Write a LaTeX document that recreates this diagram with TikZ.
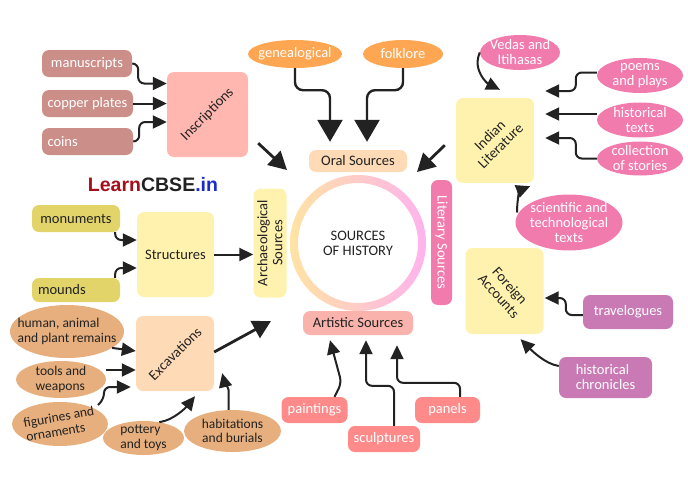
\documentclass[tikz,border=0pt]{standalone}
\usepackage{fontspec}
\setmainfont{Carlito}
\newfontfamily\logofont{Liberation Sans}
\usepackage{xcolor}
\usetikzlibrary{arrows.meta,shapes.geometric}

\definecolor{mauve}{HTML}{CB8E88}
\definecolor{salmon}{HTML}{FFB7AF}
\definecolor{oralorange}{HTML}{FFA653}
\definecolor{peach}{HTML}{FFDAB6}
\definecolor{paleyellow}{HTML}{FFF2AE}
\definecolor{mustard}{HTML}{E2D469}
\definecolor{tanbrown}{HTML}{E6AF7D}
\definecolor{hotpink}{HTML}{F27BAE}
\definecolor{rose}{HTML}{F9B3AC}
\definecolor{coral}{HTML}{FF8A8A}
\definecolor{plum}{HTML}{C97AB4}
\definecolor{ringleft}{HTML}{FFE3A3}
\definecolor{ringright}{HTML}{FFB3EE}
\definecolor{learnred}{HTML}{A50E1A}
\definecolor{learnblue}{HTML}{1B2ACB}
\definecolor{ink}{HTML}{222222}

\tikzset{
  txt/.style={font=\fontsize{14.5}{15}\selectfont, text=ink},
  txtsmall/.style={font=\fontsize{13.5}{14.5}\selectfont, text=ink},
  wtxt/.style={font=\fontsize{14.5}{15}\selectfont, text=white},
  box/.style={rectangle, rounded corners=7pt, inner sep=0pt, align=center},
  oval/.style={ellipse, inner sep=0pt},
  link/.style={draw=ink, line width=2pt, rounded corners=6pt, -{Triangle[length=14pt,width=13pt]}},
  midlink/.style={draw=ink, line width=2.8pt, -{Triangle[length=18pt,width=19pt]}},
  biglink/.style={draw=ink, line width=2.4pt, rounded corners=8pt, -{Triangle[length=22pt,width=25pt]}},
}

\begin{document}
\begin{tikzpicture}[x=1pt,y=-1pt]
\useasboundingbox (0,0) rectangle (688,477);

% inscriptions
\node[box, wtxt, fill=mauve, minimum width=90pt, minimum height=27pt] (manu) at (87,63.5) {manuscripts};
\node[box, wtxt, fill=mauve, minimum width=91pt, minimum height=27pt] (copper) at (87.5,103.5) {copper plates};
\node[box, wtxt, fill=mauve, minimum width=91pt, minimum height=27pt, text width=80pt, align=left] (coins) at (87.5,141.5) {coins};
\node[box, fill=salmon, minimum width=81pt, minimum height=85pt, label={[txt, rotate=45]center:Inscriptions}] (insc) at (207.5,114.5) {};

% oral sources
\node[oval, fill=oralorange, minimum width=94pt, minimum height=28pt, label={[wtxt]center:genealogical}] (geneal) at (295,54) {};
\node[oval, fill=oralorange, minimum width=80pt, minimum height=28pt, label={[wtxt]center:folklore}] (folk) at (403,54) {};
\node[box, txt, fill=peach, minimum width=98pt, minimum height=22pt] (oral) at (358,161) {Oral Sources};

% centre
\shade[left color=ringleft, right color=ringright, even odd rule] (358,243) circle[radius=68] circle[radius=60];
\node[txt, align=center] (hist) at (358,243) {SOURCES\\OF HISTORY};
\node[box, txt, fill=paleyellow, rotate=90, minimum width=109pt, minimum height=33pt] (archaeo) at (270,243) {Archaeological\\Sources};
\node[box, wtxt, fill=hotpink, rotate=-90, minimum width=125pt, minimum height=21pt] (literary) at (441.5,242.5) {Literary Sources};
\node[box, txt, fill=rose, minimum width=110pt, minimum height=24pt] (artistic) at (358,323) {Artistic Sources};

\node[font={\logofont\bfseries\fontsize{19.5}{20}\selectfont}, text=ink] (logo) at (153,185) {\textcolor{learnred}{Learn}CBSE\textcolor{learnblue}{.in}};

% structures
\node[box, txt, fill=mustard, minimum width=88pt, minimum height=27pt] (monu) at (76,218.5) {monuments};
\node[box, txt, fill=mustard, minimum width=88pt, minimum height=24pt, text width=76pt, align=left] (mounds) at (76,290) {mounds};
\node[box, txt, fill=paleyellow, minimum width=77pt, minimum height=85pt] (struct) at (175.5,254.5) {Structures};

% excavations
\node[oval, fill=tanbrown, minimum width=114pt, minimum height=53pt, label={[txtsmall, align=left]center:{human, animal\\and plant remains}}] (remains) at (67,331.5) {};
\node[oval, fill=tanbrown, minimum width=90pt, minimum height=37pt, label={[txtsmall, align=left]center:{tools and\\weapons}}] (tools) at (61,379.5) {};
\node[oval, fill=tanbrown, minimum width=96pt, minimum height=44pt, label={[txtsmall, align=left, rotate=10]center:{figurines and\\ornaments}}] (figur) at (60,424) {};
\node[oval, fill=tanbrown, minimum width=81pt, minimum height=34pt, label={[txtsmall, align=left]center:{pottery\\and toys}}] (pottery) at (143.5,438) {};
\node[oval, fill=tanbrown, minimum width=97pt, minimum height=42pt, label={[txtsmall, align=center]center:{habitations\\and burials}}] (habit) at (232.5,431) {};
\node[box, fill=peach, minimum width=78pt, minimum height=75pt, label={[txt, rotate=45]center:Excavations}] (excav) at (175,353.5) {};

% indian literature
\node[box, fill=paleyellow, minimum width=78pt, minimum height=85pt, label={[txt, align=center, rotate=45]center:{Indian\\Literature}}] (indlit) at (495,140.5) {};
\node[oval, fill=hotpink, minimum width=80pt, minimum height=35pt, label={[wtxt, align=center]center:{Vedas and\\Itihasas}}] (vedas) at (520,52.5) {};
\node[oval, fill=hotpink, minimum width=86pt, minimum height=35pt, label={[wtxt, align=center]center:{poems\\and plays}}] (poems) at (640,75.5) {};
\node[oval, fill=hotpink, minimum width=86pt, minimum height=35pt, label={[wtxt, align=center]center:{historical\\texts}}] (histtexts) at (640,120) {};
\node[oval, fill=hotpink, minimum width=86pt, minimum height=34pt, label={[wtxt, align=center]center:{collection\\of stories}}] (collect) at (640,158.5) {};
\node[oval, fill=hotpink, minimum width=107pt, minimum height=56pt, label={[wtxt, align=center]center:{scientific and\\technological\\texts}}] (scien) at (569,222.5) {};

% foreign accounts
\node[box, fill=paleyellow, minimum width=78pt, minimum height=86pt, label={[txt, align=center, rotate=-48]center:{Foreign\\Accounts}}] (foreign) at (504.5,291) {};
\node[box, wtxt, fill=plum, minimum width=90pt, minimum height=34pt] (travel) at (628,312) {travelogues};
\node[box, wtxt, fill=plum, minimum width=93pt, minimum height=41pt, align=left] (chron) at (605.5,377.5) {historical\\chronicles};

% artistic sources
\node[box, wtxt, fill=coral, minimum width=66pt, minimum height=26pt] (paint) at (314.5,410) {paintings};
\node[box, wtxt, fill=coral, minimum width=72pt, minimum height=26pt] (sculpt) at (384,439) {sculptures};
\node[box, wtxt, fill=coral, minimum width=65pt, minimum height=26pt] (panels) at (447.5,410) {panels};

% connectors
\draw[link] (manu.east) -- ++(6,0) |- ([yshift=31pt]insc.west);
\draw[link] (copper.east) -- (copper.east -| insc.west);
\draw[link] (coins.east) -- ++(6,0) |- ([yshift=-7.5pt]insc.west);

\draw[biglink] (geneal.south) -- ++(0,22) -| ([shift={(-28pt,8pt)}]oral.north);
\draw[biglink] (folk.south) -- ++(0,22) -| ([shift={(9pt,8pt)}]oral.north);
\draw[midlink] ([shift={(10pt,14pt)}]insc.south east) -- ([shift={(-71pt,73pt)}]hist.center);
\draw[midlink] ([shift={(-11pt,38pt)}]indlit.south west) -- ([shift={(59pt,71pt)}]hist.center);

\draw[link] ([xshift=-5pt]monu.south east) |- ([yshift=14.5pt]struct.west);
\draw[link] ([xshift=-5pt]mounds.north east) |- ([yshift=-13.5pt]struct.west);
\draw[link] (struct.east) -- (struct.east -| archaeo.north);

\draw[link] (remains.-20) -- ([yshift=2.5pt]excav.west);
\draw[link] ([yshift=9.5pt]tools.east) -- ([yshift=-16.5pt]excav.west);
\draw[link] ([shift={(38pt,19pt)}]figur.center) -- ++(6,-6) |- ([shift={(-5pt,-33.5pt)}]excav.west);
\draw[link] (pottery.45) .. controls +(15,-2) and +(-8,10) .. ([shift={(20pt,-5pt)}]excav.south);
\draw[link] ([xshift=-4pt]habit.north) -- ++(0,-14) .. controls +(0,-8) and +(2,8) .. ([shift={(8pt,18pt)}]excav.south east);
\draw[midlink] ([yshift=1.5pt]excav.east) -- ([shift={(-87pt,-78pt)}]hist.center);

\draw[link] (vedas.west) .. controls +(-8,18) and +(-12,-6) .. ([shift={(5pt,8pt)}]indlit.north);
\draw[link] ([yshift=3pt]poems.west) -- ++(-21,0) |- ([shift={(11pt,49.5pt)}]indlit.east);
\draw[link] ([yshift=6pt]histtexts.west) -- ([shift={(11pt,26.5pt)}]indlit.east);
\draw[link] (collect.west) -- ++(-21,0) |- ([shift={(11pt,2.5pt)}]indlit.east);
\draw[link] ([shift={(-52pt,10pt)}]scien.center) .. controls +(0,-14) and +(-10,4) .. ([shift={(-4pt,-3pt)}]indlit.south east);

\draw[link] ([yshift=-3pt]travel.west) -- ++(-17,0) |- ([shift={(1pt,-7pt)}]foreign.east);
\draw[link] ([yshift=11.5pt]chron.west) .. controls +(-14,-2) and +(10,10) .. ([shift={(16pt,-5pt)}]foreign.south);

\draw[link] ([xshift=20pt]paint.north) -- ++(7,-14) -- ([shift={(-28pt,-5pt)}]artistic.south);
\draw[link] ([xshift=10pt]sculpt.north) -- ++(0,-40) -| ([shift={(8pt,-5pt)}]artistic.south);
\draw[link] ([xshift=12.5pt]panels.north) -- ++(0,-14) -| ([shift={(39pt,-10pt)}]artistic.south);
\end{tikzpicture}
\end{document}
